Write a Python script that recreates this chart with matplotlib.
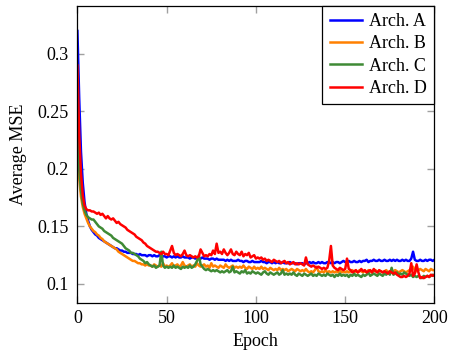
import matplotlib
matplotlib.use("Agg")
import matplotlib.pyplot as plt
import numpy as np

epochs = list(range(0, 201))

arch_a = [0.320, 0.262, 0.215, 0.188, 0.171, 0.161, 0.155, 0.150, 0.147, 0.145, 0.143,
          0.142, 0.140, 0.139, 0.138, 0.137, 0.136, 0.135, 0.134, 0.133, 0.132,
          0.131, 0.131, 0.130, 0.129, 0.129, 0.128, 0.128, 0.127, 0.127, 0.127,
          0.126, 0.126, 0.126, 0.125, 0.126, 0.125, 0.125, 0.125, 0.124, 0.125,
          0.125, 0.124, 0.125, 0.124, 0.124, 0.125, 0.124, 0.124, 0.124, 0.123,
          0.124, 0.124, 0.123, 0.124, 0.123, 0.124, 0.123, 0.123, 0.124, 0.123,
          0.123, 0.123, 0.122, 0.123, 0.123, 0.122, 0.123, 0.122, 0.122, 0.123,
          0.122, 0.122, 0.122, 0.121, 0.122, 0.122, 0.121, 0.122, 0.121, 0.121,
          0.121, 0.121, 0.120, 0.121, 0.120, 0.121, 0.120, 0.120, 0.120, 0.121,
          0.120, 0.120, 0.119, 0.120, 0.120, 0.119, 0.119, 0.120, 0.119, 0.119,
          0.119, 0.119, 0.120, 0.119, 0.119, 0.118, 0.119, 0.119, 0.118, 0.119,
          0.118, 0.119, 0.118, 0.118, 0.119, 0.118, 0.118, 0.118, 0.119, 0.118,
          0.118, 0.118, 0.117, 0.118, 0.118, 0.118, 0.117, 0.118, 0.118, 0.119,
          0.118, 0.119, 0.118, 0.118, 0.119, 0.118, 0.119, 0.118, 0.118, 0.119,
          0.119, 0.118, 0.119, 0.118, 0.119, 0.119, 0.118, 0.119, 0.120, 0.119,
          0.119, 0.120, 0.119, 0.119, 0.120, 0.119, 0.119, 0.120, 0.119, 0.120,
          0.120, 0.121, 0.119, 0.120, 0.120, 0.121, 0.120, 0.120, 0.121, 0.120,
          0.120, 0.121, 0.120, 0.120, 0.121, 0.120, 0.121, 0.120, 0.121, 0.120,
          0.120, 0.121, 0.120, 0.121, 0.120, 0.120, 0.122, 0.128, 0.121, 0.120,
          0.120, 0.121, 0.120, 0.120, 0.121, 0.120, 0.121, 0.121, 0.120, 0.121]

arch_b = [0.220, 0.192, 0.176, 0.167, 0.161, 0.157, 0.153, 0.150, 0.148, 0.146, 0.145,
          0.143, 0.142, 0.140, 0.139, 0.137, 0.136, 0.135, 0.134, 0.133, 0.132,
          0.131, 0.130, 0.128, 0.127, 0.126, 0.125, 0.124, 0.123, 0.122, 0.121,
          0.120, 0.120, 0.119, 0.118, 0.118, 0.117, 0.117, 0.116, 0.117, 0.116,
          0.116, 0.115, 0.117, 0.116, 0.115, 0.116, 0.115, 0.118, 0.115, 0.116,
          0.115, 0.116, 0.118, 0.115, 0.116, 0.117, 0.115, 0.116, 0.119, 0.116,
          0.115, 0.116, 0.117, 0.115, 0.116, 0.115, 0.118, 0.116, 0.115, 0.116,
          0.117, 0.115, 0.116, 0.114, 0.118, 0.115, 0.116, 0.115, 0.114, 0.116,
          0.115, 0.114, 0.117, 0.115, 0.114, 0.115, 0.116, 0.114, 0.115, 0.114,
          0.115, 0.114, 0.116, 0.114, 0.113, 0.115, 0.114, 0.113, 0.115, 0.113,
          0.114, 0.113, 0.115, 0.113, 0.114, 0.113, 0.112, 0.114, 0.113, 0.112,
          0.113, 0.112, 0.114, 0.112, 0.113, 0.112, 0.113, 0.111, 0.112, 0.113,
          0.112, 0.111, 0.113, 0.112, 0.111, 0.112, 0.111, 0.113, 0.111, 0.110,
          0.111, 0.110, 0.112, 0.115, 0.111, 0.110, 0.111, 0.110, 0.112, 0.110,
          0.111, 0.110, 0.111, 0.110, 0.111, 0.110, 0.112, 0.110, 0.111, 0.110,
          0.111, 0.110, 0.111, 0.112, 0.110, 0.111, 0.110, 0.112, 0.111, 0.110,
          0.111, 0.110, 0.112, 0.111, 0.110, 0.111, 0.112, 0.110, 0.111, 0.111,
          0.110, 0.111, 0.112, 0.110, 0.111, 0.110, 0.111, 0.112, 0.111, 0.110,
          0.111, 0.112, 0.111, 0.110, 0.111, 0.112, 0.113, 0.115, 0.112, 0.111,
          0.112, 0.113, 0.112, 0.111, 0.113, 0.112, 0.111, 0.113, 0.112, 0.112]

arch_c = [0.235, 0.200, 0.181, 0.170, 0.164, 0.160, 0.158, 0.157, 0.156, 0.156, 0.154,
          0.152, 0.150, 0.149, 0.148, 0.146, 0.145, 0.144, 0.143, 0.142, 0.140,
          0.139, 0.138, 0.137, 0.136, 0.135, 0.133, 0.131, 0.130, 0.129, 0.127,
          0.127, 0.126, 0.125, 0.124, 0.122, 0.121, 0.120, 0.118, 0.119, 0.117,
          0.116, 0.115, 0.116, 0.114, 0.115, 0.116, 0.128, 0.116, 0.114, 0.115,
          0.114, 0.115, 0.114, 0.116, 0.114, 0.115, 0.114, 0.113, 0.115, 0.114,
          0.115, 0.114, 0.116, 0.114, 0.115, 0.117, 0.120, 0.125, 0.117, 0.115,
          0.113, 0.112, 0.113, 0.112, 0.111, 0.112, 0.111, 0.112, 0.111, 0.110,
          0.111, 0.110, 0.111, 0.112, 0.110, 0.111, 0.115, 0.110, 0.111, 0.110,
          0.109, 0.111, 0.110, 0.112, 0.109, 0.110, 0.109, 0.111, 0.110, 0.109,
          0.110, 0.109, 0.108, 0.110, 0.111, 0.109, 0.108, 0.110, 0.109, 0.108,
          0.109, 0.110, 0.108, 0.109, 0.112, 0.108, 0.109, 0.108, 0.109, 0.108,
          0.110, 0.108, 0.107, 0.109, 0.108, 0.107, 0.109, 0.108, 0.107, 0.108,
          0.109, 0.107, 0.108, 0.107, 0.109, 0.108, 0.107, 0.108, 0.107, 0.109,
          0.108, 0.107, 0.108, 0.106, 0.108, 0.107, 0.109, 0.107, 0.108, 0.107,
          0.108, 0.106, 0.108, 0.107, 0.109, 0.107, 0.108, 0.107, 0.106, 0.108,
          0.107, 0.108, 0.110, 0.107, 0.108, 0.109, 0.108, 0.107, 0.109, 0.108,
          0.107, 0.109, 0.108, 0.110, 0.108, 0.114, 0.108, 0.109, 0.110, 0.108,
          0.109, 0.108, 0.110, 0.109, 0.108, 0.107, 0.108, 0.106, 0.107, 0.106,
          0.107, 0.106, 0.105, 0.107, 0.106, 0.107, 0.106, 0.107, 0.108, 0.107]

arch_d = [0.290, 0.230, 0.196, 0.177, 0.168, 0.165, 0.164, 0.164, 0.163, 0.163, 0.162,
          0.161, 0.162, 0.160, 0.161, 0.159, 0.157, 0.159, 0.157, 0.156, 0.157,
          0.155, 0.153, 0.154, 0.152, 0.151, 0.150, 0.149, 0.147, 0.146, 0.145,
          0.144, 0.143, 0.141, 0.140, 0.139, 0.138, 0.136, 0.135, 0.133, 0.132,
          0.131, 0.130, 0.129, 0.128, 0.128, 0.127, 0.126, 0.128, 0.126, 0.126,
          0.125, 0.129, 0.133, 0.127, 0.125, 0.126, 0.125, 0.124, 0.126, 0.129,
          0.125, 0.124, 0.125, 0.124, 0.123, 0.124, 0.123, 0.124, 0.130, 0.127,
          0.124, 0.125, 0.124, 0.126, 0.125, 0.129, 0.126, 0.135, 0.127, 0.128,
          0.126, 0.130, 0.127, 0.125, 0.127, 0.130, 0.126, 0.125, 0.128, 0.126,
          0.125, 0.128, 0.124, 0.126, 0.125, 0.127, 0.123, 0.124, 0.125, 0.122,
          0.123, 0.122, 0.123, 0.121, 0.122, 0.120, 0.121, 0.120, 0.119, 0.121,
          0.120, 0.119, 0.120, 0.118, 0.119, 0.120, 0.118, 0.119, 0.117, 0.118,
          0.119, 0.117, 0.118, 0.117, 0.118, 0.117, 0.116, 0.123, 0.117, 0.116,
          0.115, 0.116, 0.115, 0.114, 0.115, 0.114, 0.113, 0.114, 0.113, 0.114,
          0.120, 0.133, 0.116, 0.114, 0.113, 0.112, 0.114, 0.113, 0.112, 0.113,
          0.122, 0.113, 0.112, 0.110, 0.111, 0.112, 0.110, 0.111, 0.113, 0.111,
          0.112, 0.110, 0.111, 0.112, 0.110, 0.113, 0.111, 0.110, 0.112, 0.111,
          0.110, 0.111, 0.110, 0.109, 0.111, 0.110, 0.109, 0.110, 0.108, 0.107,
          0.106, 0.106, 0.107, 0.106, 0.107, 0.109, 0.118, 0.107, 0.109, 0.117,
          0.110, 0.105, 0.106, 0.105, 0.106, 0.107, 0.106, 0.108, 0.107, 0.108]

series_names = ["Arch. A", "Arch. B", "Arch. C", "Arch. D"]
series_colors = ["#0000ff", "#ff8000", "#3f8a35", "#ff0000"]

x_ticks = [0, 50, 100, 150, 200]
y_ticks = [0.1, 0.15, 0.2, 0.25, 0.3]
y_tick_labels = ["0.1", "0.15", "0.2", "0.25", "0.3"]

plt.rcParams["font.family"] = ["Liberation Serif", "DejaVu Serif"]
plt.rcParams["font.size"] = 13

fig = plt.figure(figsize=(4.5, 3.53), dpi=100)
ax = fig.add_axes([0.172, 0.141, 0.7935, 0.843])

for vals, name, col in zip([arch_a, arch_b, arch_c, arch_d], series_names, series_colors):
    ax.plot(epochs, vals, color=col, lw=1.8, label=name)

ax.set_xlim(0, 200)
ax.set_ylim(0.0832, 0.342)
ax.set_xticks(x_ticks)
ax.set_xticklabels([str(t) for t in x_ticks])
ax.set_yticks(y_ticks)
ax.set_yticklabels(y_tick_labels)
ax.tick_params(direction="in", length=5, width=1, color="#a0a0a0",
               top=True, right=True, labelsize=13)
ax.tick_params(axis="x", pad=5)
ax.tick_params(axis="y", pad=6)
for s in ax.spines.values():
    s.set_linewidth(0.9)
    s.set_color("black")

ax.set_xlabel("Epoch", fontsize=13, labelpad=4)
ax.set_ylabel("Average MSE", fontsize=13, labelpad=8)

leg = ax.legend(loc="upper right", borderaxespad=0, fancybox=False,
                edgecolor="black", framealpha=1, handlelength=1.8,
                handletextpad=0.4, labelspacing=0.3, borderpad=0.4,
                fontsize=13)
leg.get_frame().set_linewidth(0.9)

fig.savefig("out.png", dpi=100)
